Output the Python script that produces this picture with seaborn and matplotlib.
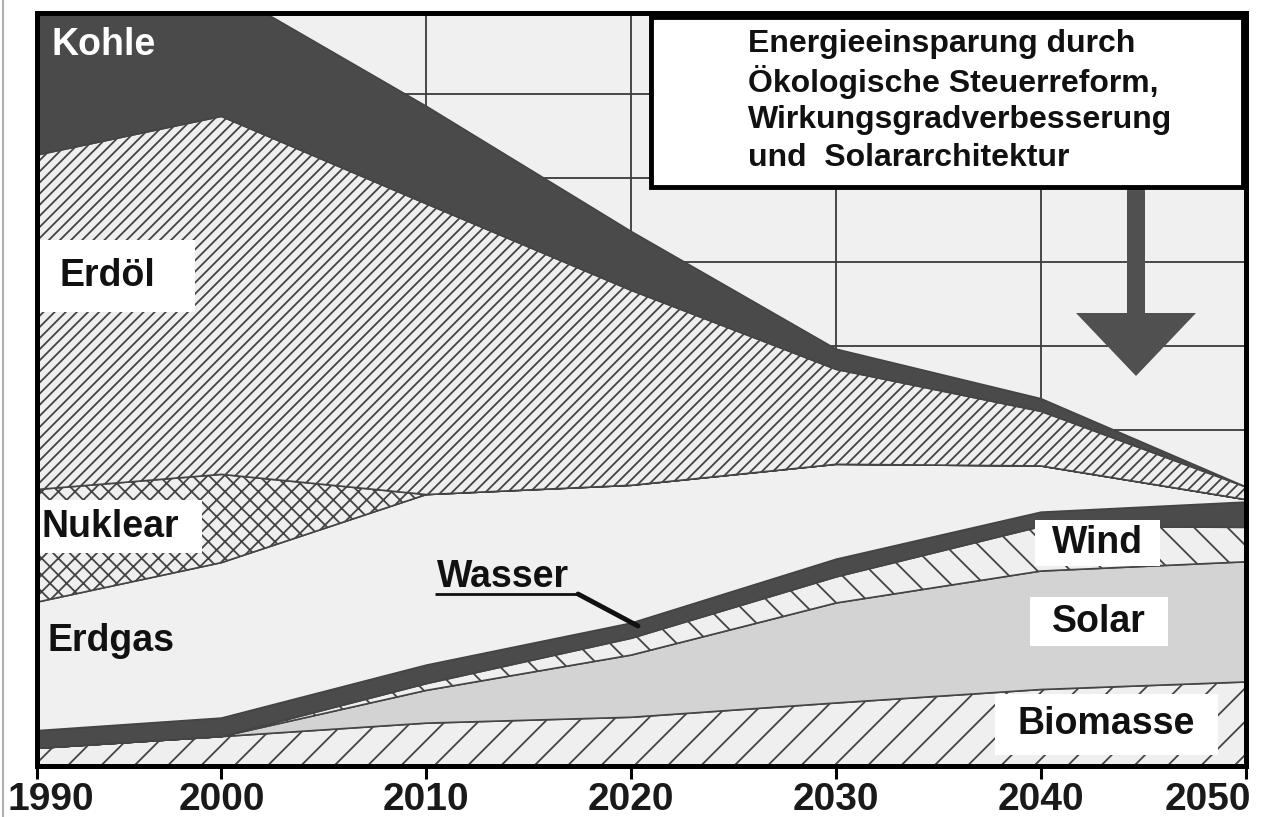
import numpy as np
import matplotlib.pyplot as plt
import matplotlib.transforms as mtransforms
import seaborn as sns
from matplotlib.patches import Rectangle, FancyArrow
from matplotlib.lines import Line2D

# Daten (Einheiten relativ, 1 Rasterkaestchen = 10)
years = [1990, 2000, 2010, 2020, 2030, 2040, 2050]
biomasse = [2.1, 3.5, 5.1, 5.8, 7.5, 9.1, 10.0]
solar = [0.0, 0.0, 3.9, 7.4, 11.9, 14.1, 14.3]
wind = [0.0, 0.0, 0.8, 2.0, 3.1, 5.3, 4.1]
wasser = [2.1, 2.2, 2.2, 1.8, 2.1, 1.7, 3.0]
erdgas = [15.3, 18.5, 20.3, 16.4, 11.3, 5.5, 0.3]
nuklear = [13.4, 10.5, 0.0, 0.0, 0.0, 0.0, 0.0]
erdoel = [39.8, 42.6, 34.6, 23.2, 11.3, 6.5, 1.5]
kohle = [21.4, 15.3, 11.6, 7.0, 2.4, 1.5, 0.0]

layers = [biomasse, solar, wind, wasser, erdgas, nuklear, erdoel, kohle]
fills = ['#efefef', '#d3d3d3', '#efefef', '#4b4b4b', '#f0f0f0', '#efefef', '#efefef', '#4a4a4a']
hatches = ['/', '', '\\', '', '', 'xx', '///', '']
tick_labels = ['1990', '2000', '2010', '2020', '2030', '2040', '2050']

box_lines = ['Energieeinsparung durch', 'Ökologische Steuerreform,',
             'Wirkungsgradverbesserung', 'und  Solararchitektur']

sns.set_theme(style="white")
plt.rcParams['font.family'] = ['Liberation Sans', 'DejaVu Sans']
plt.rcParams['hatch.linewidth'] = 1.3
plt.rcParams['hatch.color'] = '#333333'

fig = plt.figure(figsize=(12.64, 8.17), dpi=100)
fig.patch.set_facecolor('white')
ax = fig.add_axes([37 / 1264, 51 / 817, 1209 / 1264, 753 / 817])
ax.set_facecolor('#f0f0f0')


# erstes Jahrzehnt ist im Original etwas gestaucht
def fwd(x):
    x = np.asarray(x, dtype=float)
    return np.where(x < 2000, 2000 - (2000 - x) * 0.9, x)


def inv(u):
    u = np.asarray(u, dtype=float)
    return np.where(u < 2000, 2000 - (2000 - u) / 0.9, u)


ax.set_xscale('function', functions=(fwd, inv))

# gestapelte Flaechen
bottom = np.zeros(len(years))
for vals, fc, h in zip(layers, fills, hatches):
    top = bottom + np.array(vals)
    ax.fill_between(years, bottom, top, facecolor=fc, hatch=h,
                    edgecolor='#444444', linewidth=1.2, zorder=2)
    bottom = top

ax.set_xlim(1990, 2050)
ax.set_ylim(0, 89.6)
ax.set_xticks(years)
ax.set_xticklabels(tick_labels, fontsize=28, fontweight='bold', color='#1a1a1a')
ax.minorticks_off()
ax.set_yticks(np.arange(10, 90, 10))
ax.set_yticklabels([])
ax.tick_params(axis='x', which='major', bottom=True, direction='out', length=9,
               width=2.2, pad=2.5, color='black')
ax.tick_params(axis='y', length=0)
ax.grid(True, color='#3a3a3a', linewidth=1.3, zorder=0)
ax.set_axisbelow(True)
for s in ax.spines.values():
    s.set_color('black')
    s.set_linewidth(3.6)
    s.set_zorder(10)

# Randbeschriftungen nach innen schieben
tl = ax.get_xticklabels()
tl[0].set_transform(tl[0].get_transform() + mtransforms.ScaledTranslation(14 / 100, 0, fig.dpi_scale_trans))
tl[-1].set_transform(tl[-1].get_transform() + mtransforms.ScaledTranslation(-38 / 100, 0, fig.dpi_scale_trans))


def fx(px):
    return (px - 37) / 1209


def fy(py):
    return (766 - py) / 753


# Beschriftungen
lab = dict(transform=ax.transAxes, fontsize=27, fontweight='bold', zorder=6)
ax.text(fx(52), fy(45), 'Kohle', color='white', ha='left', va='center', **lab)
ax.add_patch(Rectangle((fx(40), fy(312)), fx(195) - fx(40), fy(240) - fy(312),
                       transform=ax.transAxes, facecolor='white', edgecolor='none', zorder=5))
ax.text(fx(60), fy(276), 'Erdöl', color='#111111', ha='left', va='center', **lab)
ax.add_patch(Rectangle((fx(38), fy(553)), fx(202) - fx(38), fy(500) - fy(553),
                       transform=ax.transAxes, facecolor='white', edgecolor='none', zorder=5))
ax.text(fx(42), fy(527), 'Nuklear', color='#111111', ha='left', va='center', **lab)
ax.text(fx(48), fy(641), 'Erdgas', color='#111111', ha='left', va='center', **lab)
ax.text(fx(437), fy(577), 'Wasser', color='#111111', ha='left', va='center', **lab)
ax.plot([fx(435), fx(578)], [fy(594), fy(594)], transform=ax.transAxes,
        color='#111111', lw=2, zorder=6, solid_capstyle='butt')
ax.plot([fx(578), fx(638)], [fy(594), fy(626)], transform=ax.transAxes,
        color='#111111', lw=3.5, zorder=6)
for (x0, y0, x1, y1, txt) in [(1035, 520, 1160, 566, 'Wind'),
                              (1030, 597, 1168, 646, 'Solar'),
                              (995, 694, 1218, 755, 'Biomasse')]:
    ax.add_patch(Rectangle((fx(x0), fy(y1)), fx(x1) - fx(x0), fy(y0) - fy(y1),
                           transform=ax.transAxes, facecolor='white', edgecolor='none', zorder=5))
    ax.text(fx((x0 + x1) / 2), fy((y0 + y1) / 2), txt, color='#111111',
            ha='center', va='center', **lab)

# Kasten Energieeinsparung
ax.add_patch(Rectangle((fx(651), fy(187)), fx(1243) - fx(651), fy(17) - fy(187),
                       transform=ax.transAxes, facecolor='white', edgecolor='black',
                       linewidth=3.5, zorder=7))
for i, line in enumerate(box_lines):
    ax.text(fx(748), fy(44 + i * 38), line, transform=ax.transAxes, fontsize=23,
            fontweight='bold', color='#111111', ha='left', va='center', zorder=8)

# Pfeil nach unten
ax.add_patch(FancyArrow(fx(1136), fy(188), 0, fy(376) - fy(188), width=18 / 1209,
                        head_width=120 / 1209, head_length=63 / 753,
                        length_includes_head=True, transform=ax.transAxes,
                        facecolor='#505050', edgecolor='none', zorder=4))

fig.add_artist(Line2D([0.002, 0.002], [0, 1], color='#b0b0b0', lw=1.5))

plt.savefig('out.png', dpi=100)
plt.close()
